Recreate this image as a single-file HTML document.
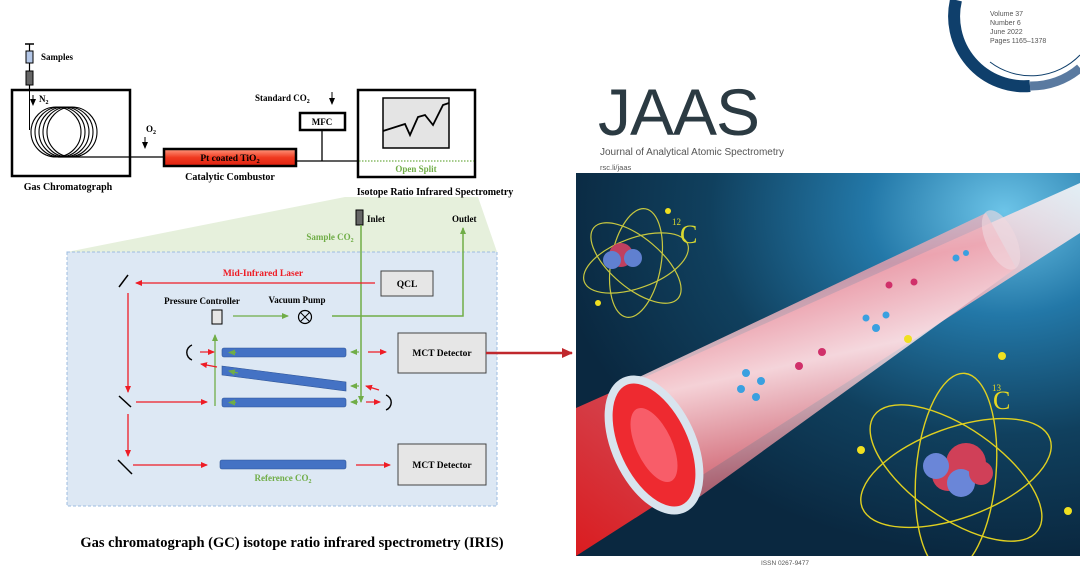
<!DOCTYPE html>
<html><head><meta charset="utf-8"><style>
html,body{margin:0;padding:0;background:#fff;}
svg{display:block}
.s{font-family:"Liberation Serif",serif;font-weight:bold;}
</style></head><body>
<svg width="1080" height="568" viewBox="0 0 1080 568" xmlns="http://www.w3.org/2000/svg">
<defs>
<marker id="ar" markerWidth="8" markerHeight="8" refX="6" refY="3" orient="auto" markerUnits="userSpaceOnUse"><path d="M0,0 L7,3 L0,6 z" fill="#ee1c25"/></marker>
<marker id="ag" markerWidth="8" markerHeight="8" refX="6" refY="3" orient="auto" markerUnits="userSpaceOnUse"><path d="M0,0 L7,3 L0,6 z" fill="#70ad47"/></marker>
<marker id="ak" markerWidth="8" markerHeight="8" refX="6" refY="3" orient="auto" markerUnits="userSpaceOnUse"><path d="M0,0 L7,3 L0,6 z" fill="#000"/></marker>
<marker id="ad" markerWidth="14" markerHeight="12" refX="10" refY="5" orient="auto" markerUnits="userSpaceOnUse"><path d="M0,0 L11,5 L0,10 z" fill="#c0282d"/></marker>
<linearGradient id="comb" x1="0" y1="0" x2="0" y2="1"><stop offset="0" stop-color="#ff9a80"/><stop offset="0.5" stop-color="#f03a20"/><stop offset="1" stop-color="#e02010"/></linearGradient>
<radialGradient id="bg" cx="0.85" cy="0.1" r="0.9"><stop offset="0" stop-color="#6cc4e8"/><stop offset="0.3" stop-color="#2378a8"/><stop offset="0.65" stop-color="#10405e"/><stop offset="1" stop-color="#0a2840"/></radialGradient>
<linearGradient id="laser" x1="0" y1="1" x2="1" y2="0"><stop offset="0" stop-color="#ff1a1a"/><stop offset="0.5" stop-color="#f07080"/><stop offset="1" stop-color="#ffffff"/></linearGradient>
<linearGradient id="tube" x1="0" y1="0" x2="0.3" y2="1"><stop offset="0" stop-color="#dce6ee" stop-opacity="0.75"/><stop offset="0.35" stop-color="#f0a0ac" stop-opacity="0.8"/><stop offset="0.6" stop-color="#fbe8ec" stop-opacity="0.85"/><stop offset="1" stop-color="#c85868" stop-opacity="0.8"/></linearGradient>
</defs>

<!-- green trapezoid -->
<polygon points="345,197 478,197 497,252 67,252" fill="#e6f0dc"/>

<!-- Syringe -->
<line x1="25" y1="44" x2="34" y2="44" stroke="#000" stroke-width="1.5"/>
<line x1="29.5" y1="44" x2="29.5" y2="90" stroke="#000" stroke-width="1.2"/>
<rect x="26" y="51" width="7" height="12" fill="#b4c7e7" stroke="#000"/>
<rect x="26" y="71" width="7" height="14" fill="#666" stroke="#000"/>
<text x="41" y="60" class="s" font-size="9">Samples</text>

<!-- GC -->
<rect x="12" y="90" width="118" height="86" fill="none" stroke="#000" stroke-width="2.5"/>
<line x1="33" y1="95" x2="33" y2="105" stroke="#000" marker-end="url(#ak)"/>
<text x="39" y="102" class="s" font-size="9">N<tspan font-size="6" dy="2">2</tspan></text>
<line x1="29.5" y1="90" x2="29.5" y2="130" stroke="#000"/>
<g fill="none" stroke="#000" stroke-width="1.1">
<circle cx="56" cy="132" r="25"/><circle cx="60" cy="132" r="25"/><circle cx="64" cy="132" r="25"/><circle cx="68" cy="132" r="25"/><circle cx="72" cy="132" r="25"/>
</g>
<line x1="58" y1="157" x2="163" y2="157" stroke="#000" stroke-width="1.3"/>
<text x="68" y="190" class="s" font-size="10" text-anchor="middle">Gas Chromatograph</text>

<line x1="145" y1="137" x2="145" y2="148" stroke="#000" marker-end="url(#ak)"/>
<text x="146" y="132" class="s" font-size="9">O<tspan font-size="6" dy="2">2</tspan></text>

<rect x="164" y="149" width="132" height="17" fill="url(#comb)" stroke="#000" stroke-width="2.5"/>
<text x="230" y="161" class="s" font-size="9.5" text-anchor="middle">Pt coated TiO<tspan font-size="6.5" dy="2">2</tspan></text>
<text x="230" y="180" class="s" font-size="10" text-anchor="middle">Catalytic Combustor</text>

<line x1="296" y1="161" x2="358" y2="161" stroke="#000" stroke-width="1.3"/>
<line x1="322" y1="130" x2="322" y2="161" stroke="#000" stroke-width="1.3"/>
<rect x="300" y="113" width="45" height="17" fill="#fff" stroke="#000" stroke-width="2.5"/>
<text x="322" y="125" class="s" font-size="9" text-anchor="middle">MFC</text>
<text x="255" y="101" class="s" font-size="9">Standard CO<tspan font-size="6" dy="2">2</tspan></text>
<line x1="332" y1="92" x2="332" y2="104" stroke="#000" marker-end="url(#ak)"/>

<!-- IRIS -->
<rect x="358" y="90" width="117" height="87" fill="#fff" stroke="#000" stroke-width="2.5"/>
<rect x="383" y="98" width="66" height="50" fill="#e4e4e4" stroke="#000" stroke-width="1.5"/>
<polyline points="383,131 405,124 410,135 418,117 425,115 433,125 443,105 449,103" fill="none" stroke="#000" stroke-width="1.8"/>
<line x1="359" y1="161" x2="474" y2="161" stroke="#70ad47" stroke-width="1.3" stroke-dasharray="1.5,1.5"/>
<text x="416" y="172" class="s" font-size="9" fill="#70ad47" text-anchor="middle">Open Split</text>
<text x="435" y="195" class="s" font-size="10" text-anchor="middle">Isotope Ratio Infrared Spectrometry</text>

<!-- blue box -->
<rect x="67" y="252" width="430" height="254" fill="#dde8f4" stroke="#9dbde0" stroke-dasharray="3,2"/>

<rect x="356" y="210" width="7" height="15" fill="#666" stroke="#000"/>
<text x="367" y="222" class="s" font-size="9">Inlet</text>
<text x="330" y="240" class="s" font-size="9" fill="#70ad47" text-anchor="middle">Sample CO<tspan font-size="6" dy="2">2</tspan></text>
<text x="452" y="222" class="s" font-size="9">Outlet</text>
<line x1="361" y1="225" x2="361" y2="402" stroke="#70ad47" stroke-width="1.5" marker-end="url(#ag)"/>
<polyline points="332,316 463,316 463,228" fill="none" stroke="#70ad47" stroke-width="1.5" marker-end="url(#ag)"/>

<text x="263" y="276" class="s" font-size="9.5" fill="#ee1c25" text-anchor="middle">Mid-Infrared Laser</text>
<line x1="375" y1="283" x2="136" y2="283" stroke="#ee1c25" stroke-width="1.3" marker-end="url(#ar)"/>
<rect x="381" y="271" width="52" height="25" fill="#e6e6e6" stroke="#444"/>
<text x="407" y="287" class="s" font-size="9.5" text-anchor="middle">QCL</text>

<line x1="119" y1="287" x2="128" y2="275" stroke="#000" stroke-width="1.5"/>
<line x1="128" y1="293" x2="128" y2="392" stroke="#ee1c25" stroke-width="1.3" marker-end="url(#ar)"/>
<line x1="119" y1="396" x2="131" y2="407" stroke="#000" stroke-width="1.5"/>
<line x1="136" y1="402" x2="207" y2="402" stroke="#ee1c25" stroke-width="1.3" marker-end="url(#ar)"/>
<line x1="128" y1="414" x2="128" y2="456" stroke="#ee1c25" stroke-width="1.3" marker-end="url(#ar)"/>
<line x1="118" y1="460" x2="132" y2="474" stroke="#000" stroke-width="1.5"/>
<line x1="133" y1="465" x2="207" y2="465" stroke="#ee1c25" stroke-width="1.3" marker-end="url(#ar)"/>

<text x="202" y="304" class="s" font-size="9" text-anchor="middle">Pressure Controller</text>
<rect x="212" y="310" width="10" height="14" fill="#e6e6e6" stroke="#000"/>
<line x1="233" y1="316" x2="288" y2="316" stroke="#70ad47" stroke-width="1.3" marker-end="url(#ag)"/>
<text x="297" y="303" class="s" font-size="9" text-anchor="middle">Vacuum Pump</text>
<circle cx="305" cy="317" r="6.5" fill="none" stroke="#000" stroke-width="1.2"/>
<line x1="300.5" y1="312.5" x2="309.5" y2="321.5" stroke="#000"/><line x1="309.5" y1="312.5" x2="300.5" y2="321.5" stroke="#000"/>

<line x1="215" y1="406" x2="215" y2="335" stroke="#70ad47" stroke-width="1.3" marker-end="url(#ag)"/>

<!-- tubes -->
<rect x="222" y="348" width="124" height="9" rx="2" fill="#4472c4" stroke="#2f5597" stroke-width="0.6"/>
<polygon points="222,366 346,382 346,391 222,375" fill="#4472c4" stroke="#2f5597" stroke-width="0.6"/>
<rect x="222" y="398" width="124" height="9" rx="2" fill="#4472c4" stroke="#2f5597" stroke-width="0.6"/>
<rect x="220" y="460" width="126" height="9" rx="2" fill="#4472c4" stroke="#2f5597" stroke-width="0.6"/>
<g stroke="#70ad47" stroke-width="1.2">
<line x1="236" y1="352.5" x2="229" y2="352.5" marker-end="url(#ag)"/>
<line x1="238" y1="373" x2="229" y2="371" marker-end="url(#ag)"/>
<line x1="236" y1="402.5" x2="229" y2="402.5" marker-end="url(#ag)"/>
<line x1="359" y1="352" x2="351" y2="352" marker-end="url(#ag)"/>
<line x1="359" y1="386" x2="351" y2="386" marker-end="url(#ag)"/>
<line x1="358" y1="402" x2="351" y2="402" marker-end="url(#ag)"/>
</g>
<g stroke="#ee1c25" stroke-width="1.2">
<line x1="200" y1="352" x2="214" y2="352" marker-end="url(#ar)"/>
<line x1="217" y1="367" x2="201" y2="364" marker-end="url(#ar)"/>
<line x1="368" y1="352" x2="386" y2="352" marker-end="url(#ar)"/>
<line x1="379" y1="390" x2="366" y2="386" marker-end="url(#ar)"/>
<line x1="366" y1="402" x2="380" y2="402" marker-end="url(#ar)"/>
<line x1="356" y1="465" x2="390" y2="465" marker-end="url(#ar)"/>
</g>
<path d="M192,345 A8,8 0 0 0 192,360" fill="none" stroke="#000" stroke-width="1.4"/>
<path d="M386,395 A8,8 0 0 1 386,410" fill="none" stroke="#000" stroke-width="1.4"/>
<text x="283" y="481" class="s" font-size="9" fill="#70ad47" text-anchor="middle">Reference CO<tspan font-size="6" dy="2">2</tspan></text>

<rect x="398" y="333" width="88" height="40" fill="#e6e6e6" stroke="#444"/>
<text x="442" y="356" class="s" font-size="9.5" text-anchor="middle">MCT Detector</text>
<rect x="398" y="444" width="88" height="41" fill="#e6e6e6" stroke="#444"/>
<text x="442" y="468" class="s" font-size="9.5" text-anchor="middle">MCT Detector</text>
<line x1="486" y1="353" x2="572" y2="353" stroke="#c0282d" stroke-width="2.5" marker-end="url(#ad)"/>

<text x="292" y="547" class="s" font-size="14.5" text-anchor="middle">Gas chromatograph (GC) isotope ratio infrared spectrometry (IRIS)</text>

<!-- Journal cover -->
<path d="M956,0 A70,70 0 0 0 1030,86" fill="none" stroke="#0f3f6b" stroke-width="12"/>
<path d="M1030,86 A75,75 0 0 0 1080,68" fill="none" stroke="#5a7aa0" stroke-width="9"/>
<path d="M990,62 A68,68 0 0 0 1080,55" fill="none" stroke="#0f3f6b" stroke-width="1"/>
<g font-family="Liberation Sans,sans-serif" font-size="7" fill="#555">
<text x="990" y="16">Volume 37</text><text x="990" y="25">Number 6</text><text x="990" y="34">June 2022</text><text x="990" y="43">Pages 1165–1378</text>
</g>
<text x="598" y="135" font-family="Liberation Sans,sans-serif" font-size="66" fill="#2b3a42" letter-spacing="-1">JAAS</text>
<text x="600" y="155" font-family="Liberation Sans,sans-serif" font-size="10" fill="#555">Journal of Analytical Atomic Spectrometry</text>
<text x="600" y="170" font-family="Liberation Sans,sans-serif" font-size="7.5" fill="#555">rsc.li/jaas</text>

<svg x="576" y="173" width="504" height="383" viewBox="0 0 504 383">
<rect width="504" height="383" fill="url(#bg)"/>
<!-- laser beam -->
<polygon points="0,235 504,10 504,60 0,383" fill="url(#laser)" opacity="0.85"/>
<!-- tube -->
<polygon points="40,215 410,40 440,95 115,330" fill="url(#tube)"/>
<ellipse cx="425" cy="67" rx="15" ry="32" transform="rotate(-25 425 67)" fill="#f0d8e0" opacity="0.6"/>
<ellipse cx="78" cy="272" rx="38" ry="70" transform="rotate(-25 78 272)" fill="#ee2a30" stroke="#d8e4ee" stroke-width="8"/>
<ellipse cx="78" cy="272" rx="18" ry="40" transform="rotate(-25 78 272)" fill="#ff8090" opacity="0.6"/>
<!-- molecules -->
<g fill="#3aa0e0"><circle cx="170" cy="200" r="4"/><circle cx="185" cy="208" r="4"/><circle cx="180" cy="224" r="4"/><circle cx="165" cy="216" r="4"/><circle cx="300" cy="155" r="4"/><circle cx="310" cy="142" r="3.5"/><circle cx="290" cy="145" r="3.5"/><circle cx="380" cy="85" r="3.5"/><circle cx="390" cy="80" r="3"/></g>
<g fill="#d0306a"><circle cx="223" cy="193" r="4"/><circle cx="246" cy="179" r="4"/><circle cx="313" cy="112" r="3.5"/><circle cx="338" cy="109" r="3.5"/></g>
<!-- atom 12C -->
<g fill="none" stroke="#c8c840" stroke-width="1.2">
<ellipse cx="60" cy="90" rx="55" ry="25" transform="rotate(-20 60 90)"/>
<ellipse cx="60" cy="90" rx="55" ry="25" transform="rotate(40 60 90)"/>
<ellipse cx="60" cy="90" rx="55" ry="25" transform="rotate(100 60 90)"/>
</g>
<circle cx="45" cy="82" r="12" fill="#c04060"/><circle cx="36" cy="87" r="9" fill="#6080d0"/><circle cx="57" cy="85" r="9" fill="#6080d0"/>
<text x="104" y="70" font-family="Liberation Serif,serif" font-size="26" fill="#d8d830">C</text><text x="96" y="52" font-family="Liberation Serif,serif" font-size="9" fill="#d8d830">12</text>
<!-- atom 13C -->
<g fill="none" stroke="#e0d020" stroke-width="1.4">
<ellipse cx="380" cy="300" rx="100" ry="45" transform="rotate(-20 380 300)"/>
<ellipse cx="380" cy="300" rx="100" ry="45" transform="rotate(35 380 300)"/>
<ellipse cx="380" cy="300" rx="100" ry="40" transform="rotate(95 380 300)"/>
</g>
<circle cx="390" cy="290" r="20" fill="#d04058"/><circle cx="372" cy="302" r="16" fill="#d04058"/><circle cx="360" cy="293" r="13" fill="#6a86d8"/><circle cx="385" cy="310" r="14" fill="#6a86d8"/><circle cx="405" cy="300" r="12" fill="#d04058"/>
<g fill="#f0e020"><circle cx="92" cy="38" r="3"/><circle cx="22" cy="130" r="3"/><circle cx="332" cy="166" r="4"/><circle cx="426" cy="183" r="4"/><circle cx="285" cy="277" r="4"/><circle cx="492" cy="338" r="4"/></g>
<text x="417" y="236" font-family="Liberation Serif,serif" font-size="26" fill="#e8d820">C</text><text x="416" y="218" font-family="Liberation Serif,serif" font-size="9" fill="#e8d820">13</text>
</svg>
<text x="785" y="565" font-family="Liberation Sans,sans-serif" font-size="6.5" fill="#555" text-anchor="middle">ISSN 0267-9477</text>
</svg>
</body></html>
